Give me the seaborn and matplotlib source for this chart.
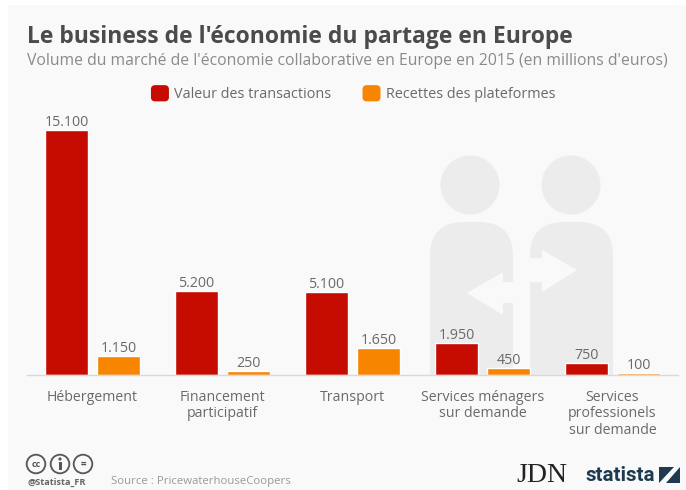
#!/usr/bin/env python3
import pandas as pd
import matplotlib
matplotlib.use('Agg')
import matplotlib.pyplot as plt
import matplotlib.patches as mpatches
from matplotlib.legend_handler import HandlerPatch
from matplotlib.path import Path
import seaborn as sns

categories = ["Hébergement", "Financement\nparticipatif", "Transport",
              "Services ménagers\nsur demande", "Services\nprofessionels\nsur demande"]
transactions = [15100, 5200, 5100, 1950, 750]
recettes = [1150, 250, 1650, 450, 100]
series_names = ["Valeur des transactions", "Recettes des plateformes"]

title = "Le business de l'économie du partage en Europe"
subtitle = "Volume du marché de l'économie collaborative en Europe en 2015 (en millions d'euros)"
source = "Source : PricewaterhouseCoopers"

RED = "#c60c00"
ORANGE = "#f78500"
BG = "#f9f9f9"
SILHOUETTE = "#ececec"
TITLE_COLOR = "#4b4b4b"
TEXT_COLOR = "#6a6a6a"
SUB_COLOR = "#8a8a8a"
DARK = "#1d3a50"

W, H = 686, 490

sns.set_theme(style="white")
plt.rcParams['font.family'] = ['Open Sans', 'DejaVu Sans']

df = pd.DataFrame({
    "categorie": categories * 2,
    "valeur": transactions + recettes,
    "serie": [series_names[0]] * 5 + [series_names[1]] * 5,
})

fig = plt.figure(figsize=(W / 100, H / 100), dpi=100, facecolor="white")

# pixel canvas for the background, the silhouettes and the footer
bg = fig.add_axes([0, 0, 1, 1], zorder=0)
bg.set_xlim(0, W)
bg.set_ylim(H, 0)
bg.axis("off")
bg.add_patch(mpatches.Rectangle((8, 5), W - 8, H - 5, fc=BG, ec="none"))


def body(x0, x1, top, bottom=375, r=34):
    verts = [(x0, bottom), (x0, top + r), (x0, top), (x0 + r, top), (x1 - r, top),
             (x1, top), (x1, top + r), (x1, bottom), (x0, bottom)]
    codes = [Path.MOVETO, Path.LINETO, Path.CURVE3, Path.CURVE3, Path.LINETO,
             Path.CURVE3, Path.CURVE3, Path.LINETO, Path.CLOSEPOLY]
    return mpatches.PathPatch(Path(verts, codes), fc=SILHOUETTE, ec="none")


bg.add_patch(mpatches.Circle((470, 185), 29.5, fc=SILHOUETTE, ec="none"))
bg.add_patch(mpatches.Circle((571, 185), 29.5, fc=SILHOUETTE, ec="none"))
bg.add_patch(body(430, 513, 222))
bg.add_patch(body(530, 613, 222))
bg.add_patch(mpatches.Polygon([(467, 293), (503, 272), (503, 282), (516, 282), (516, 303),
                               (503, 303), (503, 315)], fc=BG, ec="none"))
bg.add_patch(mpatches.Polygon([(577, 270), (542, 250), (542, 258), (527, 258), (527, 282),
                               (542, 282), (542, 292)], fc=BG, ec="none"))

# main chart
ax = fig.add_axes([27 / W, (H - 375) / H, (678 - 27) / W, 276 / H], zorder=1)
ax.patch.set_alpha(0)
sns.barplot(data=df, x="categorie", y="valeur", hue="serie", palette=[RED, ORANGE],
            width=0.8, gap=0.19, saturation=1, ax=ax, legend=False)
ax.set_xlim(-0.504, 4.504)
ax.set_ylim(0, 276 / 245 * 15100)
ax.set_xlabel("")
ax.set_ylabel("")
ax.set_yticks([])
for side in ["top", "left", "right"]:
    ax.spines[side].set_visible(False)
ax.spines["bottom"].set_color("#d9d9d9")
ax.spines["bottom"].set_linewidth(1)
ax.tick_params(axis="x", length=0, pad=10.5, labelsize=10.2, labelcolor=TEXT_COLOR)
for lab in ax.get_xticklabels():
    lab.set_linespacing(1.15)

for container, vals in zip(ax.containers, [transactions, recettes]):
    labels = [f"{v:,}".replace(",", ".") for v in vals]
    ax.bar_label(container, labels=labels, padding=0, fontsize=10.3, color=TEXT_COLOR)


def round_swatch(legend, orig_handle, xdescent, ydescent, width, height, fontsize):
    return mpatches.FancyBboxPatch((-xdescent + 1.5, -ydescent + 1.5), width - 3, height - 3,
                                   boxstyle="round,pad=1.5,rounding_size=2.5", mutation_aspect=1)


handles = [mpatches.Patch(color=RED, label=series_names[0]),
           mpatches.Patch(color=ORANGE, label=series_names[1])]
fig.legend(handles=handles, ncol=2, frameon=False, loc="center", bbox_to_anchor=(353.5 / W, (H - 94) / H),
           fontsize=10.4, labelcolor=TEXT_COLOR, handlelength=1.15, handleheight=1.2,
           handletextpad=0.42, columnspacing=2.2, borderpad=0, borderaxespad=0,
           handler_map={mpatches.Patch: HandlerPatch(patch_func=round_swatch)})

# headings
bg.text(27, 37, title, fontsize=16.5, fontweight="bold", color=TITLE_COLOR, va="center", ha="left")
bg.text(27, 61, subtitle, fontsize=11.38, color=SUB_COLOR, va="center", ha="left")

# footer
for cx in [36, 60, 83]:
    bg.add_patch(mpatches.Circle((cx, 464), 9.3, fc="none", ec="#555555", lw=1.3))
bg.text(36, 464, "cc", fontsize=6.5, fontweight="bold", color="#555555", ha="center", va="center")
bg.add_patch(mpatches.Circle((60, 459), 1.6, fc="#555555", ec="none"))
bg.add_patch(mpatches.Rectangle((58.5, 462), 3, 8, fc="#555555", ec="none"))
bg.text(83, 464, "=", fontsize=7, fontweight="bold", color="#555555", ha="center", va="center")
bg.text(27, 482, "@Statista_FR", fontsize=6.6, fontweight="bold", color="#666666", va="center")
bg.text(111, 481, source, fontsize=8.2, color="#9a9a9a", va="center")
bg.text(516, 475, "JDN", family="Liberation Serif", fontsize=20, color="#222222", va="center")
bg.text(585, 475, "statista", family="Roboto", fontweight="bold", fontsize=14.8, color=DARK, va="center")
bg.add_patch(mpatches.Rectangle((659, 467), 21, 16, fc=DARK, ec="none"))
bg.add_patch(mpatches.Polygon([(659, 483), (674, 467), (680, 467), (666, 483)], fc=BG, ec="none"))

fig.savefig("out.png", dpi=100)
